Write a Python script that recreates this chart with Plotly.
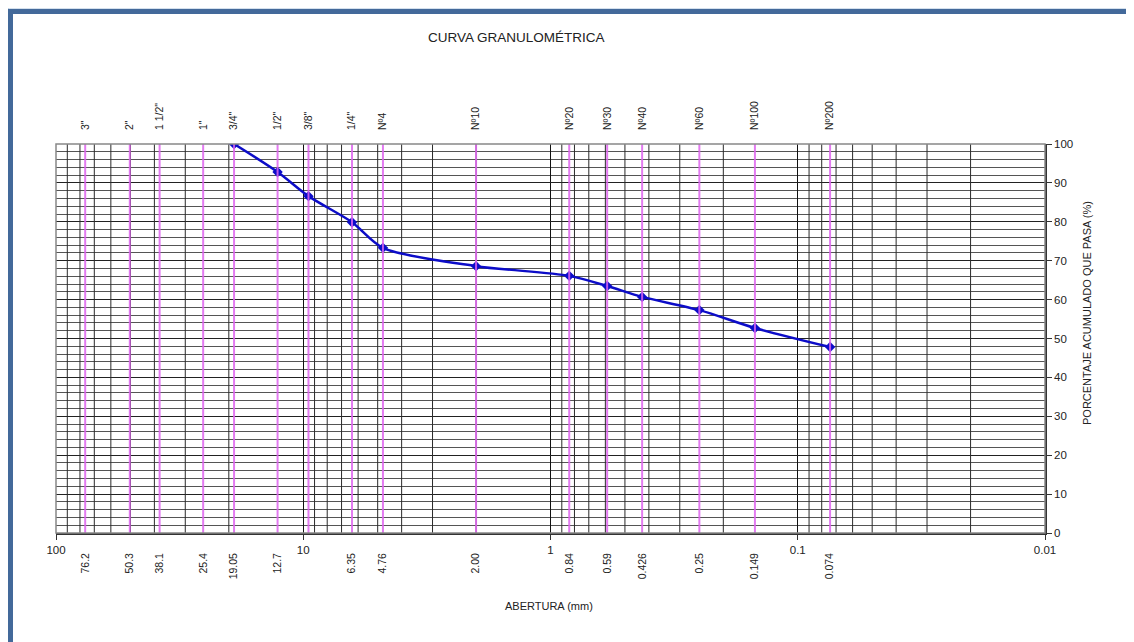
import plotly.graph_objects as go

# ---------------- data ----------------
sieve_names = ['3"', '2"', '1 1/2"', '1"', '3/4"', '1/2"', '3/8"', '1/4"',
               'Nº4', 'Nº10', 'Nº20', 'Nº30', 'Nº40', 'Nº60', 'Nº100', 'Nº200']
sieve_openings = [76.2, 50.3, 38.1, 25.4, 19.05, 12.7, 9.525, 6.35,
                  4.76, 2.00, 0.84, 0.59, 0.426, 0.25, 0.149, 0.074]
opening_labels = ['76.2', '50.3', '38.1', '25.4', '19.05', '12.7', '', '6.35',
                  '4.76', '2.00', '0.84', '0.59', '0.426', '0.25', '0.149', '0.074']

curve_openings = [19.05, 12.7, 9.525, 6.35, 4.76, 2.00, 0.84, 0.59, 0.426, 0.25, 0.149, 0.074]
percent_passing = [100, 92.8, 86.6, 79.9, 73.3, 68.6, 66.1, 63.5, 60.7, 57.3, 52.7, 47.8]

decade_ticks = [100, 10, 1, 0.1, 0.01]
decade_labels = ['100', '10', '1', '0.1', '0.01']

# ---------------- layout geometry ----------------
W, H = 1134, 642
OFF = 8  # page body margin
L, R, T, B = 56, 1045, 144, 533   # plot area in screen pixels
PW, PH = R - L, B - T


def px(x):
    return (x - L) / PW


def py(y):
    return (B - y) / PH


FONT = "Liberation Sans, Arial, sans-serif"

fig = go.Figure()

# minor log gridlines (2..9 in each decade)
minor_vals = [m * 10 ** e for e in (-2, -1, 0, 1) for m in range(2, 10)]
gx, gy = [], []
for v in minor_vals:
    gx += [v, v, None]
    gy += [0, 100, None]
fig.add_trace(go.Scatter(x=gx, y=gy, mode='lines', xaxis='x', yaxis='y',
                         line=dict(color='#2a2a2a', width=1),
                         hoverinfo='skip', showlegend=False))

# sieve (pink) lines
sx, sy = [], []
for v in sieve_openings:
    sx += [v, v, None]
    sy += [0, 100, None]
fig.add_trace(go.Scatter(x=sx, y=sy, mode='lines', xaxis='x2', yaxis='y',
                         line=dict(color='rgba(222,100,238,0.85)', width=2),
                         hoverinfo='skip', showlegend=False))

# dummy trace for bottom opening-label axis
fig.add_trace(go.Scatter(x=sieve_openings, y=[0] * len(sieve_openings), mode='markers',
                         xaxis='x3', yaxis='y', marker=dict(opacity=0),
                         hoverinfo='skip', showlegend=False))

# grading curve
fig.add_trace(go.Scatter(x=curve_openings, y=percent_passing, mode='lines+markers',
                         xaxis='x', yaxis='y',
                         line=dict(color='#0c0cc8', width=2.5, shape='spline', smoothing=0.8),
                         marker=dict(symbol='diamond', size=8, color='#0c0cc8'),
                         showlegend=False))

xrange = [2, -2]

fig.update_layout(
    width=W, height=H,
    margin=dict(l=L - OFF, r=W - (R - OFF), t=T - OFF, b=H - (B - OFF), autoexpand=False),
    paper_bgcolor='white', plot_bgcolor='white',
    font=dict(family=FONT, size=11, color='#222'),
    showlegend=False,
    xaxis=dict(type='log', range=xrange, tickvals=decade_ticks, ticktext=decade_labels,
               tickangle=0, ticks='outside', ticklen=5, tickcolor='#333',
               showgrid=True, gridcolor='#111', gridwidth=1,
               showline=True, linecolor='#333', linewidth=1.5,
               zeroline=False, automargin=False, tickfont=dict(size=11.5, color='#222')),
    xaxis2=dict(type='log', range=xrange, overlaying='x', side='top', anchor='y',
                tickvals=sieve_openings, ticktext=sieve_names, tickangle=-90,
                ticks='', showgrid=False, showline=False, zeroline=False,
                automargin=False, ticklabelstandoff=13,
                tickfont=dict(size=10.5, color='#222')),
    xaxis3=dict(type='log', range=xrange, overlaying='x', side='bottom', anchor='y',
                tickvals=[v for v, t in zip(sieve_openings, opening_labels) if t],
                ticktext=[t for t in opening_labels if t], tickangle=-90,
                ticks='', showgrid=False, showline=False, zeroline=False,
                automargin=False, ticklabelstandoff=17,
                tickfont=dict(size=10.5, color='#222')),
    yaxis=dict(range=[0, 100], side='right', dtick=10, ticks='outside', ticklen=5,
               tickcolor='#333', showgrid=True, gridcolor='#222', gridwidth=1,
               minor=dict(dtick=2, showgrid=True, gridcolor='#555', gridwidth=1, ticks=''),
               showline=True, linecolor='#333', linewidth=1.5, zeroline=False,
               automargin=False, tickfont=dict(size=11.5, color='#222')),
    shapes=[
        dict(type='rect', xref='paper', yref='paper', x0=0, x1=1, y0=0, y1=1,
             line=dict(color='#888', width=1.5), layer='above'),
        dict(type='rect', xref='paper', yref='paper',
             x0=px(8), x1=px(1300), y0=py(800), y1=py(8),
             line=dict(color='#a9c2dc', width=1), layer='above'),
        dict(type='rect', xref='paper', yref='paper',
             x0=px(10.5), x1=px(1300), y0=py(800), y1=py(11.5),
             line=dict(color='#43699a', width=5), layer='above'),
    ],
    annotations=[
        dict(text='CURVA GRANULOMÉTRICA', xref='paper', yref='paper',
             x=px(516), y=py(37), showarrow=False, font=dict(size=13.5, color='#222'),
             xanchor='center', yanchor='middle'),
        dict(text='ABERTURA (mm)', xref='paper', yref='paper',
             x=px(549), y=py(606), showarrow=False, font=dict(size=11, color='#222'),
             xanchor='center', yanchor='middle'),
        dict(text='PORCENTAJE ACUMULADO QUE PASA (%)', xref='paper', yref='paper',
             x=px(1087), y=py(313), showarrow=False, textangle=-90,
             font=dict(size=11, color='#222'), xanchor='center', yanchor='middle'),
    ],
)

fig.write_html("out.html")
